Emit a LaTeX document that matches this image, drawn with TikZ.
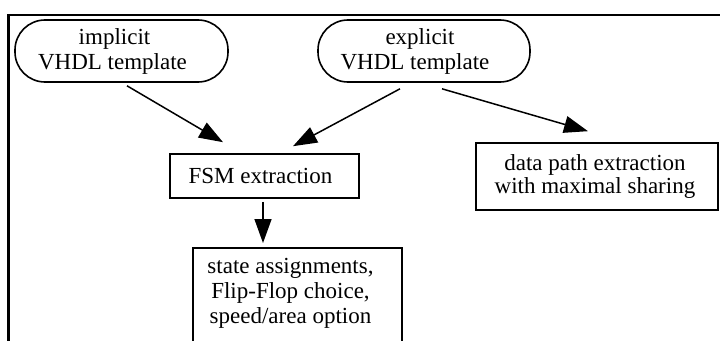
\documentclass[tikz,border=0pt]{standalone}
\usepackage{fontspec}
\setmainfont{Liberation Serif}
\usetikzlibrary{arrows.meta}
\tikzset{
  pill/.style={draw, line width=1.6pt, rounded corners=30pt, minimum width=213pt, minimum height=62pt,
    align=center, inner sep=0pt},
  box/.style={draw, line width=1.6pt, minimum width=#1, align=center, inner sep=0pt},
  label/.style={align=center, inner sep=0pt},
  flow/.style={line width=1.5pt, -{Triangle[length=24pt, width=17pt]}},
}
\begin{document}
\begin{tikzpicture}[x=1pt, y=-1pt, font=\fontsize{23}{25}\selectfont]
\clip (0,0) rectangle (720,340);
\fill[white] (0,0) rectangle (720,340);

% outer frame (top and left edges)
\draw[line width=2.2pt] (8.5,360) -- (8.5,15) -- (730,15);

% template sources
\node[pill] (impl) at (121.5,51) {\hspace*{-14pt}implicit\\\hspace*{-18pt}VHDL template};
\node[pill, minimum width=212pt] (expl) at (424,51) {\hspace*{-8pt}explicit\\\hspace*{-18pt}VHDL template};

% processing steps
\node[box=189pt, minimum height=44pt] (fsm) at (264.5,176) {\hspace*{-8pt}FSM extraction};
\node[box=242pt, minimum height=67pt] (dp) at (597,176.5)
  {\raisebox{-7pt}{\hspace*{-4pt}\shortstack{data path extraction\\[-0.5pt]with maximal sharing}}};
\node[box=209pt, minimum height=120pt, anchor=north] (state) at (297.5,247) {};
\node[label, anchor=north] (statetxt) at ([shift={(-7,11)}]state.north)
  {state assignments,\\Flip-Flop choice,\\speed/area option};

% connectors
\draw[flow] ([shift={(5.5,3)}]impl.south) -- ([shift={(-41.5,-11)}]fsm.north);
\draw[flow] ([shift={(-24,6)}]expl.south) -- ([shift={(28.5,-7)}]fsm.north);
\draw[flow] ([shift={(18,6)}]expl.south) -- ([shift={(-9,-11)}]dp.north);
\draw[flow] ([shift={(-1.5,3)}]fsm.south) -- ([shift={(-1.5,-4)}]fsm.south |- state.north);
\end{tikzpicture}
\end{document}
